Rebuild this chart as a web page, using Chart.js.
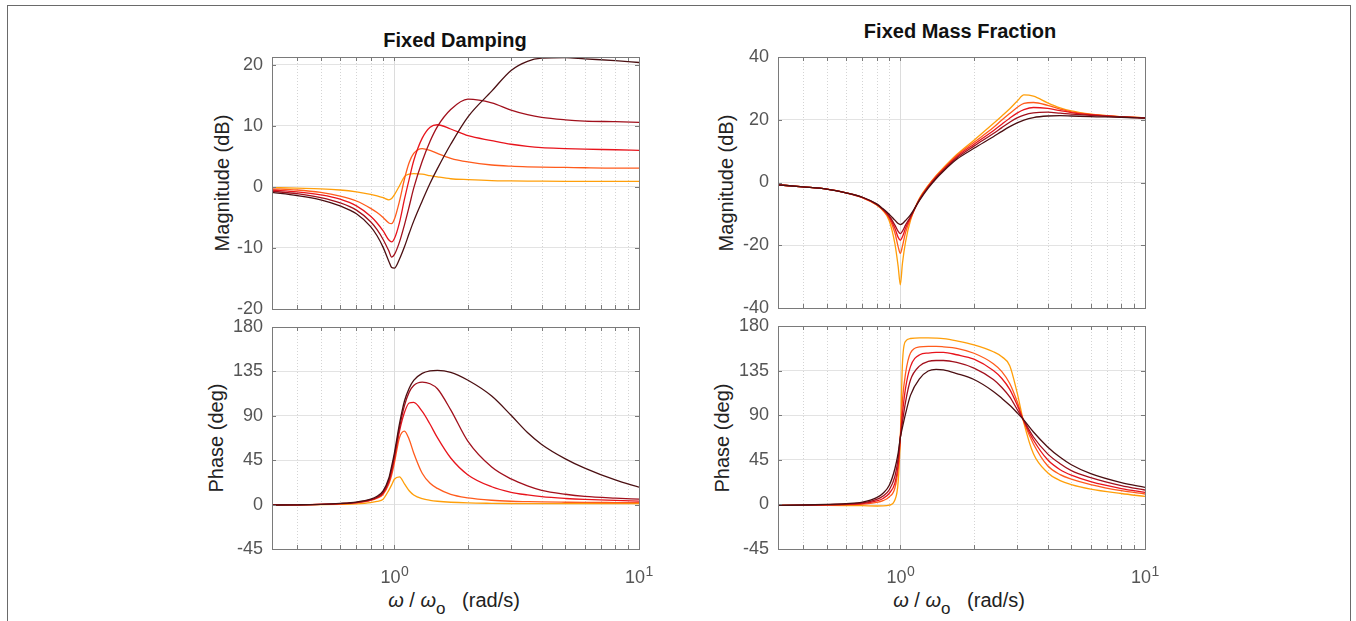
<!DOCTYPE html>
<html>
<head>
<meta charset="utf-8">
<script src="https://cdn.jsdelivr.net/npm/chart.js@4.4.1/dist/chart.umd.min.js"></script>
<style>
  body { margin: 0; background: #fff; width: 1356px; height: 621px; overflow: hidden; position: relative;
         font-family: 'Liberation Sans', Arial, sans-serif; }
  .frame { position: absolute; left: 7px; top: 5px; width: 1342px; height: 700px; border: 1px solid #6a6a6a; }
  canvas { position: absolute; }
  .title { position: absolute; font-weight: bold; font-size: 20px; color: #111; transform: translate(-50%, -50%); white-space: nowrap; }
  .ylab { position: absolute; font-size: 20px; color: #222; transform: translate(-50%, -50%) rotate(-90deg); white-space: nowrap; }
  .xlab { position: absolute; font-size: 20px; color: #222; transform: translate(-50%, -50%); white-space: nowrap; }
  .xlab sub { font-size: 17px; vertical-align: -7px; }
</style>
</head>
<body>
<div class="frame"></div>

<div class="title" style="left:455px; top:40px;">Fixed Damping</div>
<div class="title" style="left:960px; top:31px;">Fixed Mass Fraction</div>

<div class="ylab" style="left:222px; top:183px;">Magnitude (dB)</div>
<div class="ylab" style="left:216px; top:438px;">Phase (deg)</div>
<div class="ylab" style="left:726px; top:183px;">Magnitude (dB)</div>
<div class="ylab" style="left:722px; top:438px;">Phase (deg)</div>

<div class="xlab" style="left:454px; top:604px;"><i>ω</i> / <i>ω</i><sub>o</sub>&nbsp;&nbsp;&nbsp;(rad/s)</div>
<div class="xlab" style="left:959px; top:604px;"><i>ω</i> / <i>ω</i><sub>o</sub>&nbsp;&nbsp;&nbsp;(rad/s)</div>

<canvas id="magDamp" width="467" height="278" style="left:192px; top:43px;"></canvas>
<canvas id="phDamp" width="467" height="281" style="left:192px; top:313px;"></canvas>
<canvas id="magMass" width="467" height="277" style="left:698px; top:43px;"></canvas>
<canvas id="phMass" width="467" height="282" style="left:698px; top:312px;"></canvas>

<script>
// frequency ratio samples (w / wo)
const freqL = [0.3162, 0.4, 0.5, 0.6, 0.7, 0.8, 0.85, 0.9, 0.95, 0.975, 1.0, 1.05, 1.1, 1.15, 1.2, 1.3, 1.4, 1.5, 1.7, 2.0, 2.5, 3.0, 3.5, 4.0, 5.0, 6.0, 8.0, 10.0];
const freqR = [0.3162, 0.4, 0.5, 0.6, 0.7, 0.8, 0.85, 0.9, 0.95, 0.98, 1.0, 1.02, 1.05, 1.1, 1.2, 1.3, 1.4, 1.5, 1.7, 2.0, 2.4, 2.6, 2.8, 3.0, 3.2, 3.5, 4.0, 4.5, 5.0, 6.0, 8.0, 10.0];

// Fixed Damping - magnitude (dB)
const magD1 = [-0.1, -0.2, -0.3, -0.5, -0.8, -1.2, -1.45, -1.75, -2.1, -1.9, -1.3, 0.2, 1.7, 2.1, 2.2, 2.1, 1.85, 1.65, 1.35, 1.2, 1.05, 1.0, 0.97, 0.95, 0.93, 0.92, 0.91, 0.9];
const magD2 = [-0.3, -0.5, -0.9, -1.5, -2.3, -3.5, -4.2, -5.0, -5.9, -6.0, -5.3, -2.3, 1.3, 4.0, 5.5, 6.3, 6.0, 5.5, 4.7, 4.1, 3.6, 3.4, 3.3, 3.25, 3.2, 3.15, 3.1, 3.1];
const magD3 = [-0.5, -0.8, -1.3, -2.0, -3.1, -4.8, -5.9, -7.2, -8.7, -9.0, -8.5, -5.8, -2.0, 1.3, 4.3, 8.0, 9.8, 10.2, 9.5, 8.4, 7.6, 7.0, 6.65, 6.45, 6.3, 6.2, 6.1, 6.0];
const magD4 = [-0.7, -1.1, -1.75, -2.6, -3.8, -5.7, -7.0, -8.6, -10.5, -11.5, -11.1, -9.0, -6.2, -3.2, -0.2, 4.2, 7.5, 9.9, 12.7, 14.4, 13.8, 12.6, 11.85, 11.4, 11.0, 10.8, 10.7, 10.6];
const magD5 = [-0.9, -1.4, -2.1, -3.1, -4.4, -6.5, -8.0, -9.9, -12.2, -13.2, -13.3, -11.8, -9.8, -7.6, -5.6, -2.3, 0.6, 3.0, 7.0, 11.5, 15.7, 19.1, 20.6, 21.1, 21.2, 21.0, 20.7, 20.4];

// Fixed Damping - phase (deg)
const phD1 = [-0.3, -0.2, 0, 0.3, 0.8, 2.0, 3.2, 5.5, 14.7, 20, 25.7, 28.2, 21, 14, 9.8, 6.0, 4.3, 3.4, 2.4, 1.7, 1.3, 1.1, 1.0, 1.0, 0.9, 0.9, 0.9, 0.9];
const phD2 = [-0.3, -0.2, 0.2, 0.8, 1.8, 4.2, 6.5, 10.5, 21, 30, 42, 68, 74.5, 66, 52.4, 31.8, 21.6, 16.4, 10.3, 6.8, 4.4, 3.4, 3.0, 2.7, 2.4, 2.2, 2.1, 2.0];
const phD3 = [-0.3, -0.2, 0.2, 0.9, 2.0, 4.5, 7, 11.5, 23, 33, 46, 74.6, 93.4, 103, 103.7, 94.4, 81.4, 67.8, 47.2, 30.1, 18.1, 12.5, 9.8, 8.0, 6.2, 5.2, 4.2, 3.5];
const phD4 = [-0.4, -0.2, 0.2, 1.0, 2.2, 5.0, 7.5, 12.5, 25, 36, 49, 78, 100.3, 114, 120.8, 124.2, 122.5, 117.4, 96, 64, 38, 26, 19, 14.5, 10.5, 8.3, 6.5, 5.5];
const phD5 = [-0.5, -0.2, 0.3, 1.2, 2.6, 5.5, 8.5, 14, 27, 39, 52, 82, 105, 118, 126, 133, 135.5, 136, 134, 126, 110, 90.5, 73, 61, 46.4, 37, 25, 17.7];

// Fixed Mass Fraction - magnitude (dB)
const magM1 = [-0.74, -1.4, -2.1, -3.3, -4.8, -7.2, -9.0, -12.1, -19.5, -26.8, -32.6, -25.8, -19.0, -12.1, -4.9, -0.9, 2.2, 4.7, 8.9, 13.5, 18.8, 21.2, 23.5, 25.9, 27.9, 27.5, 25.4, 23.8, 22.8, 21.8, 21.0, 20.6];
const magM2 = [-0.74, -1.4, -2.1, -3.3, -4.8, -7.1, -8.8, -11.4, -16.0, -20.5, -22.6, -20.3, -16.0, -11.6, -5.1, -1.1, 2.0, 4.4, 8.6, 12.8, 17.5, 19.9, 22.0, 23.9, 25.2, 25.5, 24.6, 23.4, 22.5, 21.7, 21.0, 20.6];
const magM3 = [-0.74, -1.4, -2.1, -3.3, -4.8, -7.0, -8.7, -11.0, -14.6, -17.5, -18.4, -17.3, -14.6, -11.2, -5.3, -1.3, 1.8, 4.2, 8.2, 12.2, 16.5, 18.6, 20.5, 22.1, 23.2, 23.9, 23.6, 22.9, 22.3, 21.6, 20.9, 20.6];
const magM4 = [-0.74, -1.4, -2.1, -3.3, -4.7, -6.9, -8.6, -10.6, -13.6, -15.6, -16.3, -15.5, -13.6, -10.9, -5.4, -1.5, 1.5, 3.9, 7.8, 11.6, 15.6, 17.5, 19.2, 20.6, 21.5, 22.2, 22.4, 22.1, 21.8, 21.4, 20.9, 20.6];
const magM5 = [-0.74, -1.4, -2.1, -3.3, -4.7, -6.8, -8.4, -10.1, -12.0, -13.1, -13.4, -13.1, -12.1, -10.3, -5.6, -1.8, 1.2, 3.6, 7.4, 10.9, 14.6, 16.3, 17.8, 19.0, 19.9, 20.7, 21.2, 21.3, 21.2, 21.0, 20.8, 20.5];

// Fixed Mass Fraction - phase (deg)
const phM1 = [-1, -1, -1, -1.1, -1.3, -1.6, -1.5, -0.8, 4.4, 23, 67.5, 142, 164.5, 167.4, 168, 168, 167.8, 167.3, 165, 161, 154, 149, 140, 113, 82, 51, 32, 24, 20, 15.5, 11, 8];
const phM2 = [-1, -0.9, -0.7, -0.4, 0.2, 2.0, 3.8, 7.5, 16.4, 36.8, 67.5, 105, 132, 152.7, 158.9, 159.5, 159.5, 159, 157.5, 152.5, 142, 134, 122, 104, 83, 61, 39, 30, 25.5, 20, 13.8, 10.5];
const phM3 = [-1, -0.8, -0.5, 0, 0.9, 3.5, 6, 11, 21.5, 40, 67.5, 91.4, 117, 139, 151, 152.7, 153.3, 153.4, 151, 146.5, 135, 127, 116, 100.5, 84, 65, 45, 35, 29.5, 23, 16, 12.1];
const phM4 = [-1, -0.7, -0.3, 0.4, 1.5, 5.0, 8.5, 14.5, 28.3, 47, 67.5, 83, 103.3, 125.5, 139.8, 144.2, 145.2, 145.2, 143.2, 137.5, 126, 118, 108.5, 96, 84.5, 68, 51, 41, 34, 27, 19, 14.5];
const phM5 = [-1, -0.6, 0, 0.8, 2.3, 6.8, 11.3, 19, 36, 52, 67.5, 77.7, 91.4, 110, 127, 134.6, 136.2, 135.7, 132, 126, 114, 107, 100, 92.5, 85, 73, 58, 47.5, 40, 31, 22, 17.2];

// axis ticks
const magDampTicks = [-20, -10, 0, 10, 20];
const magMassTicks = [-40, -20, 0, 20, 40];
const phaseTicks = [-45, 0, 45, 90, 135, 180];
const xTickValues = [1, 10];
const xTickExps = ['0', '1'];
const xGrid = [0.4, 0.5, 0.6, 0.7, 0.8, 0.9, 1, 2, 3, 4, 5, 6, 7, 8, 9];

const colors = ['#ff9f0a', '#ff5b1c', '#e8141c', '#a1101c', '#4b0f12'];
const FONT = '"Liberation Sans", Arial, sans-serif';

const axesBox = {
  id: 'axesBox',
  beforeDatasetsDraw(chart) {
    const { ctx, chartArea: a, scales: { x } } = chart;
    ctx.save();
    ctx.lineWidth = 1;
    xGrid.forEach(v => {
      const px = Math.round(x.getPixelForValue(v)) + 0.5;
      const major = xTickValues.includes(v);
      ctx.strokeStyle = major ? '#dcdcdc' : '#d4d4d4';
      ctx.setLineDash(major ? [] : [1, 2]);
      ctx.beginPath();
      ctx.moveTo(px, a.top);
      ctx.lineTo(px, a.bottom);
      ctx.stroke();
    });
    ctx.restore();
  },
  afterDatasetsDraw(chart, args, opts) {
    const { ctx, chartArea: a, scales: { x, y } } = chart;
    ctx.save();
    ctx.strokeStyle = '#7a7a7a';
    ctx.lineWidth = 1;
    ctx.beginPath();
    xGrid.forEach(v => {
      const px = Math.round(x.getPixelForValue(v)) + 0.5;
      ctx.moveTo(px, a.bottom); ctx.lineTo(px, a.bottom - 4);
      ctx.moveTo(px, a.top); ctx.lineTo(px, a.top + 4);
    });
    y.ticks.forEach(t => {
      const py = Math.round(y.getPixelForValue(t.value)) + 0.5;
      ctx.moveTo(a.left, py); ctx.lineTo(a.left + 4, py);
      ctx.moveTo(a.right, py); ctx.lineTo(a.right - 4, py);
    });
    ctx.stroke();
    ctx.strokeRect(Math.round(a.left) + 0.5, Math.round(a.top) + 0.5,
                   Math.round(a.right - a.left), Math.round(a.bottom - a.top));

    if (opts.showX) {
      ctx.fillStyle = '#555';
      ctx.textBaseline = 'alphabetic';
      ctx.textAlign = 'left';
      xTickValues.forEach((v, i) => {
        const px = x.getPixelForValue(v);
        ctx.font = '18px ' + FONT;
        const w1 = ctx.measureText('10').width;
        ctx.font = '14px ' + FONT;
        const w2 = ctx.measureText(xTickExps[i]).width;
        const left = px - (w1 + w2) / 2;
        ctx.font = '18px ' + FONT;
        ctx.fillText('10', left, a.bottom + 34);
        ctx.font = '14px ' + FONT;
        ctx.fillText(xTickExps[i], left + w1 + 0.5, a.bottom + 27);
      });
    }
    ctx.restore();
  }
};

function makePanel(id, freq, series, yMin, yMax, yTicks, showX) {
  const datasets = series.map((vals, i) => ({
    data: vals.map((v, k) => ({ x: freq[k], y: v })),
    borderColor: colors[i],
    borderWidth: 1.3,
    pointRadius: 0,
    fill: false,
    cubicInterpolationMode: 'monotone',
    order: series.length - i
  }));
  new Chart(document.getElementById(id), {
    type: 'line',
    data: { datasets },
    plugins: [axesBox],
    options: {
      responsive: false,
      animation: false,
      events: [],
      layout: { padding: { top: 14, right: 20, left: 0, bottom: 0 } },
      plugins: { legend: { display: false }, tooltip: { enabled: false }, axesBox: { showX } },
      scales: {
        x: {
          type: 'logarithmic',
          bounds: 'data',
          min: Math.pow(10, -0.5),
          max: 10,
          grid: { display: false },
          border: { display: false },
          ticks: { display: false },
          afterFit: s => { s.height = showX ? 45 : 12; s.paddingLeft = 0; s.paddingRight = 0; }
        },
        y: {
          bounds: 'data',
          min: yMin,
          max: yMax,
          grid: { color: '#e3e3e3', lineWidth: 1, drawTicks: false },
          border: { display: false },
          ticks: { color: '#555', padding: 9, font: { family: FONT, size: 18 } },
          afterBuildTicks: s => { s.ticks = yTicks.map(v => ({ value: v })); },
          afterFit: s => { s.width = 80; s.paddingTop = 0; s.paddingBottom = 0; }
        }
      }
    }
  });
}

makePanel('magDamp', freqL, [magD1, magD2, magD3, magD4, magD5], -20, 21.3, magDampTicks, false);
makePanel('phDamp', freqL, [phD1, phD2, phD3, phD4, phD5], -45, 180, phaseTicks, true);
makePanel('magMass', freqR, [magM1, magM2, magM3, magM4, magM5], -40, 40, magMassTicks, false);
makePanel('phMass', freqR, [phM1, phM2, phM3, phM4, phM5], -45, 180, phaseTicks, true);
</script>
</body>
</html>
